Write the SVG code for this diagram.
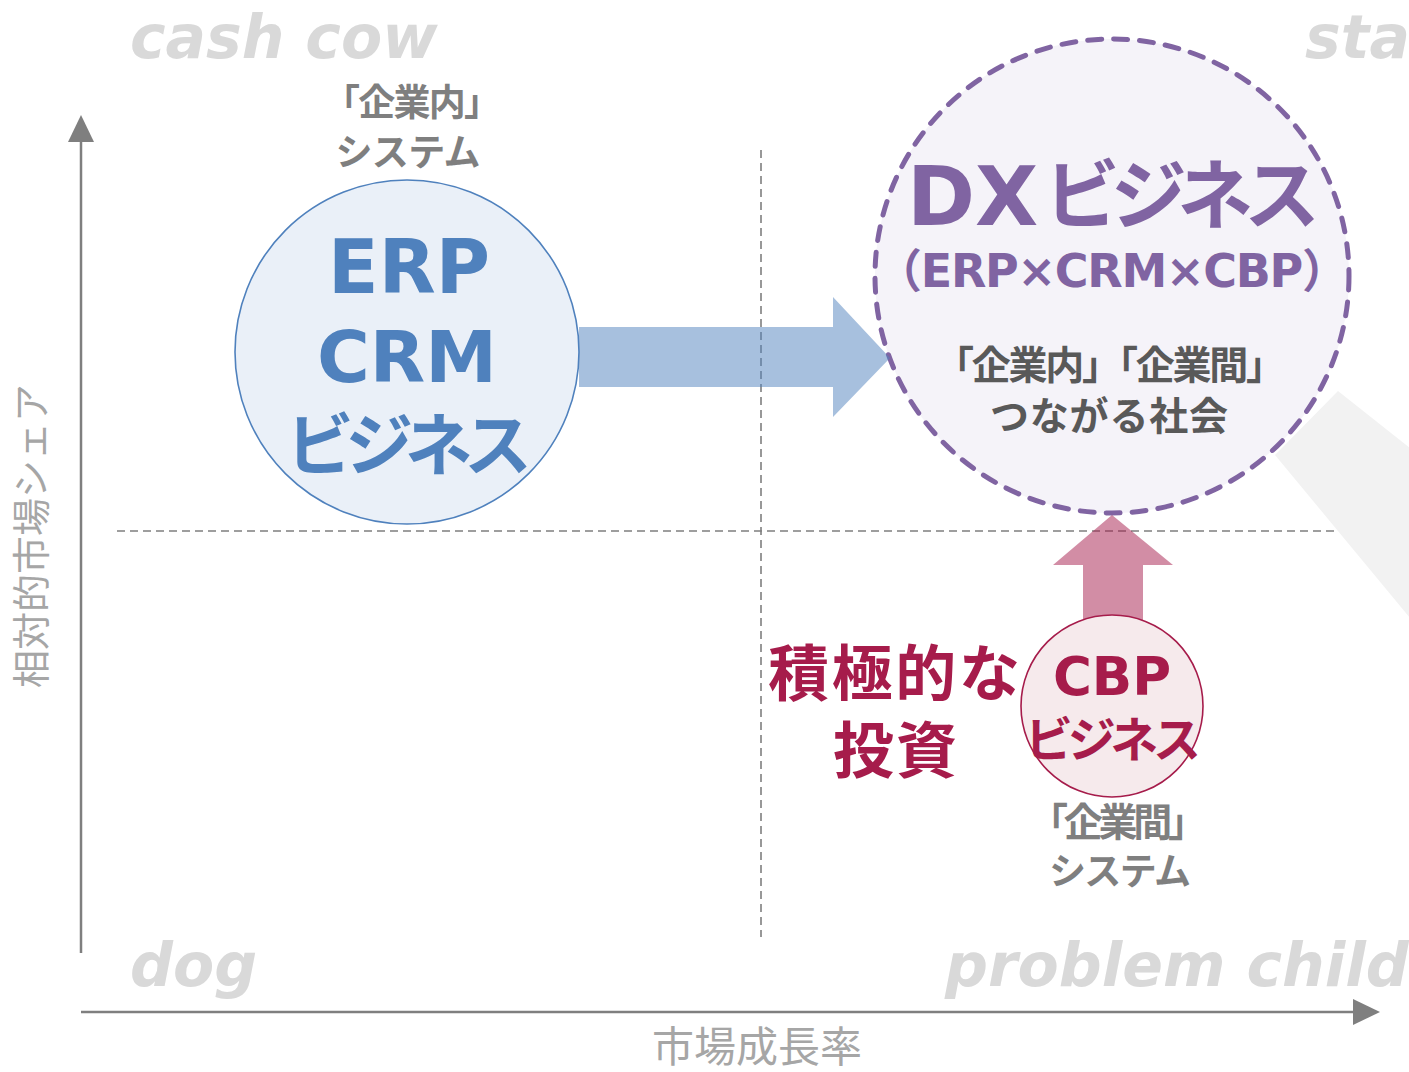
<svg xmlns="http://www.w3.org/2000/svg" width="1409" height="1072" viewBox="0 0 1409 1072">
<style>
.quad{font-family:"DejaVu Sans","Liberation Sans",sans-serif;font-weight:bold;font-style:oblique;font-size:60px;fill:#d9d9d9}
.lat{font-family:"DejaVu Sans","Noto Sans CJK JP",sans-serif;font-weight:bold}
.jp{font-family:"Noto Sans CJK JP",sans-serif;font-weight:bold}
.axlab{font-family:"Noto Sans CJK JP",sans-serif;font-weight:normal;fill:#a6a6a6}
.dash{stroke:#7f7f7f;stroke-width:1.6;stroke-dasharray:8 5;fill:none}
.axis{stroke:#7f7f7f;stroke-width:2.5;fill:none}
.gray{fill:#7f7f7f}
.blue{fill:#4f81bd}
.purple{fill:#8064a2}
.dark{fill:#595959}
.rasp{fill:#a61c4b}
</style>
<g id="axes">
<line class="axis" x1="81" y1="953" x2="81" y2="138"/>
<polygon points="81,115 68,142 94,142" fill="#7f7f7f"/>
<line class="axis" x1="81" y1="1012" x2="1358" y2="1012"/>
<polygon points="1380,1012 1353,999 1353,1025" fill="#7f7f7f"/>
<line class="dash" x1="761" y1="150" x2="761" y2="937"/>
<line class="dash" x1="117" y1="531" x2="1409" y2="531"/>
<text class="axlab" font-size="38" transform="translate(32,536) rotate(-90)" x="0" y="13" text-anchor="middle">相対的市場シェア</text>
<text class="axlab" font-size="42" x="757" y="1062" text-anchor="middle">市場成長率</text>
</g>
<g id="quadrant-labels">
<text class="quad" x="130" y="58">cash cow</text>
<text class="quad" x="1305" y="58">star</text>
<text class="quad" x="130" y="986">dog</text>
<text class="quad" x="945" y="986">problem child</text>
</g>
<g id="band">
<polygon points="1275,455 1338,391 1420,456 1420,630" fill="#f2f2f2"/>
</g>
<g id="erp-node">
<text class="jp gray" font-size="37" x="412" y="116" text-anchor="middle" textLength="178" lengthAdjust="spacing">「企業内」</text>
<text class="jp gray" font-size="37" x="408" y="166" text-anchor="middle" textLength="145" lengthAdjust="spacing">システム</text>
<circle cx="407" cy="352" r="172" fill="#eaf0f8" stroke="#4f81bd" stroke-width="1.6"/>
<text class="lat blue" font-size="74" x="409" y="293" text-anchor="middle">ERP</text>
<text class="lat blue" font-size="72" x="407" y="382" text-anchor="middle">CRM</text>
<text class="jp blue" font-size="68" x="409" y="470" text-anchor="middle" textLength="246" lengthAdjust="spacing">ビジネス</text>
</g>
<g id="dx-node">
<circle cx="1112" cy="276" r="237" fill="#f5f3f9" stroke="#8064a2" stroke-width="5" stroke-dasharray="14 12" stroke-linecap="round"/>
<text class="lat purple" font-size="82" x="907" y="225">DX</text>
<text class="jp purple" font-size="76" x="1044" y="223" textLength="276" lengthAdjust="spacing">ビジネス</text>
<text class="lat purple" font-size="46" x="1112" y="287" text-anchor="middle" textLength="472" lengthAdjust="spacing">（ERP×CRM×CBP）</text>
<text class="jp dark" font-size="39" x="1110" y="379" text-anchor="middle" textLength="350" lengthAdjust="spacing">「企業内」「企業間」</text>
<text class="jp dark" font-size="39" x="1109" y="430" text-anchor="middle" textLength="238" lengthAdjust="spacing">つながる社会</text>
</g>
<g id="connectors">
<polygon points="579,327 833,327 833,297 890,358 833,417 833,387 579,387" fill="#4f81bd" fill-opacity="0.5"/>
<polygon points="1112,515 1173,565 1143,565 1143,640 1083,640 1083,565 1053,565" fill="#a61c4b" fill-opacity="0.5"/>
</g>
<g id="cbp-node">
<circle cx="1112" cy="706" r="91" fill="#f6eaec" stroke="#a61c4b" stroke-width="1.6"/>
<text class="lat rasp" font-size="53" x="1112" y="695" text-anchor="middle">CBP</text>
<text class="jp rasp" font-size="48" x="1113" y="757" text-anchor="middle" textLength="176" lengthAdjust="spacing">ビジネス</text>
<text class="jp gray" font-size="39" x="1118" y="836" text-anchor="middle" textLength="178" lengthAdjust="spacing">「企業間」</text>
<text class="jp gray" font-size="37" x="1120" y="885" text-anchor="middle" textLength="142" lengthAdjust="spacing">システム</text>
</g>
<g id="invest-label">
<text class="jp rasp" font-size="61" x="894" y="696" text-anchor="middle" textLength="252" lengthAdjust="spacing">積極的な</text>
<text class="jp rasp" font-size="61" x="895" y="773" text-anchor="middle" textLength="124" lengthAdjust="spacing">投資</text>
</g>
</svg>
